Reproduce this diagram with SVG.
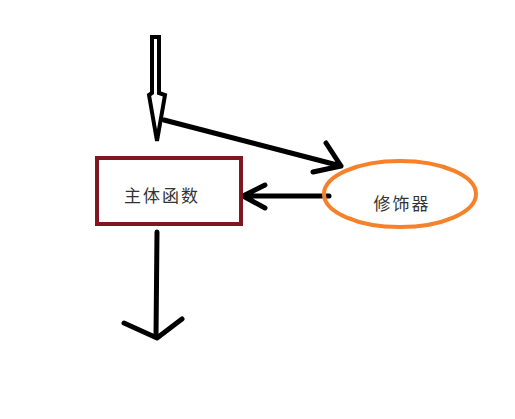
<svg xmlns="http://www.w3.org/2000/svg" width="515" height="419" viewBox="0 0 515 419">
<style>
.conn{fill:none;stroke:#000;stroke-width:5;stroke-linecap:round;stroke-linejoin:round}
.label{font-family:"Noto Sans CJK SC","Noto Sans CJK JP",sans-serif;font-size:17px;letter-spacing:2px;fill:#333;text-anchor:middle}
</style>
<rect width="515" height="419" fill="#fff"/>
<g id="connectors">
<path d="M152,37 L159,37 L159,93 L165,95 L157,141 L149,95 L152,93 Z" fill="#fff" stroke="#000" stroke-width="4" stroke-linejoin="miter"/>
<path class="conn" d="M164,120 L341,166 M326,143 L341,166 L313,172"/>
<path class="conn" d="M329,196 L243,196 M265,185 L243,196 L265,208"/>
<path class="conn" d="M157,232 L156,337 M124,323 L157,338 L182,319"/>
</g>
<g id="main">
<rect x="97" y="158" width="144" height="66" fill="none" stroke="#7f1721" stroke-width="4"/>
<text class="label" x="162" y="202">主体函数</text>
</g>
<g id="decorator">
<ellipse cx="400" cy="194" rx="76" ry="33" fill="none" stroke="#f5822a" stroke-width="4"/>
<text class="label" x="402" y="210">修饰器</text>
</g>
</svg>
